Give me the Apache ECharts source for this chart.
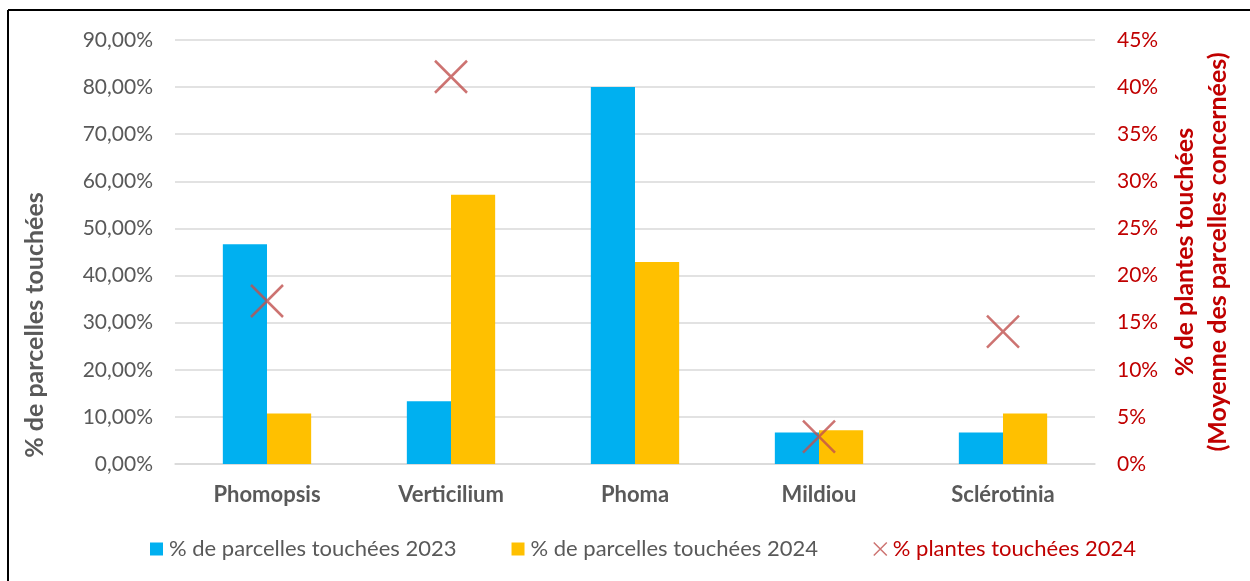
<!DOCTYPE html>
<html>
<head>
<meta charset="utf-8">
<script src="https://cdn.jsdelivr.net/npm/echarts@6/dist/echarts.min.js"></script>
<style>
html,body{margin:0;padding:0;background:#fff;}
#chart{width:1250px;height:581px;}
</style>
</head>
<body>
<div id="chart"></div>
<script>
const categories = ['Phomopsis', 'Verticilium', 'Phoma', 'Mildiou', 'Sclérotinia'];
const parcelles2023 = [46.67, 13.33, 80.0, 6.67, 6.67];
const parcelles2024 = [10.71, 57.14, 42.86, 7.14, 10.71];
const plantes2024 = [17.3, 41.1, null, 2.9, 14.05];
const leftTicksMax = 90;
const rightTicksMax = 45;
const seriesNames = ['% de parcelles touchées 2023', '% de parcelles touchées 2024', '% plantes touchées 2024'];

const FONT = 'Lato';
const GREY = '#595959';
const RED = '#C00000';
const CROSS = 'path://M0,0L10,10M10,0L0,10';

const chart = echarts.init(document.getElementById('chart'), null, {renderer: 'canvas'});
chart.setOption({
  backgroundColor: '#fff',
  animation: false,
  textStyle: {fontFamily: FONT},
  grid: {left: 175, right: 155, top: 40, bottom: 117, containLabel: false},
  legend: {
    left: 150, top: 538, padding: 0,
    itemWidth: 13, itemHeight: 13, itemGap: 55,
    textStyle: {fontFamily: FONT, fontSize: 22, color: GREY, padding: [0,0,0,1]},
    data: [
      {name: seriesNames[0], icon: 'rect'},
      {name: seriesNames[1], icon: 'rect'},
      {name: seriesNames[2], icon: CROSS, itemStyle: {color: 'transparent', borderColor: '#C0504D', borderWidth: 1.5}, textStyle: {color: RED}}
    ]
  },
  xAxis: {
    type: 'category',
    data: categories,
    axisLine: {lineStyle: {color: '#D9D9D9', width: 1.5}},
    axisTick: {show: false},
    axisLabel: {fontFamily: FONT, fontSize: 22, fontWeight: 'bold', color: GREY, margin: 20}
  },
  yAxis: [
    {
      type: 'value', min: 0, max: leftTicksMax, interval: 10,
      axisLine: {show: false}, axisTick: {show: false},
      splitLine: {lineStyle: {color: '#D9D9D9', width: 1.5}},
      axisLabel: {fontFamily: FONT, fontSize: 21, color: GREY, margin: 22,
        formatter: v => v.toFixed(2).replace('.', ',') + '%'}
    },
    {
      type: 'value', min: 0, max: rightTicksMax, interval: 5,
      axisLine: {show: false}, axisTick: {show: false},
      splitLine: {show: false},
      axisLabel: {fontFamily: FONT, fontSize: 21, color: RED, margin: 22,
        formatter: v => v + '%'}
    }
  ],
  series: [
    {name: seriesNames[0], type: 'bar', data: parcelles2023, barGap: '0%', barCategoryGap: '52%',
      itemStyle: {color: '#00B0F0'}},
    {name: seriesNames[1], type: 'bar', data: parcelles2024, barGap: '0%', barCategoryGap: '52%',
      itemStyle: {color: '#FFC000'}},
    {name: seriesNames[2], type: 'scatter', yAxisIndex: 1, data: plantes2024,
      symbol: CROSS, symbolSize: 32, z: 5,
      itemStyle: {color: 'transparent', borderColor: '#C0504D', borderWidth: 2.5}}
  ],
  graphic: [
    {type: 'line', shape: {x1: 8, y1: 10, x2: 1250, y2: 10}, style: {stroke: '#000', lineWidth: 2}},
    {type: 'line', shape: {x1: 8, y1: 10, x2: 8, y2: 581}, style: {stroke: '#000', lineWidth: 2}},
    {type: 'text', x: 35, y: 325, rotation: Math.PI / 2,
      style: {text: '% de parcelles touchées', fill: GREY, font: 'bold 25px ' + FONT, textAlign: 'center', textVerticalAlign: 'middle'}},
    {type: 'text', x: 1185, y: 252, rotation: Math.PI / 2,
      style: {text: '% de plantes touchées', fill: RED, font: 'bold 25px ' + FONT, textAlign: 'center', textVerticalAlign: 'middle'}},
    {type: 'text', x: 1218, y: 252, rotation: Math.PI / 2,
      style: {text: '(Moyenne des parcelles concernées)', fill: RED, font: 'bold 25px ' + FONT, textAlign: 'center', textVerticalAlign: 'middle'}}
  ]
});
</script>
</body>
</html>
